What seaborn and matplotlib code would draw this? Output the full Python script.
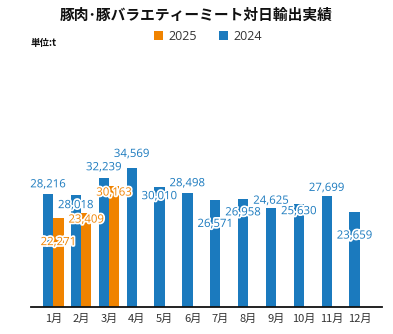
import matplotlib
matplotlib.use("Agg")
import matplotlib.pyplot as plt
import matplotlib.patheffects as pe
import seaborn as sns
import pandas as pd

# ---- data ----
months = ["1月", "2月", "3月", "4月", "5月", "6月", "7月", "8月", "9月", "10月", "11月", "12月"]
values_2024 = [28216, 28018, 32239, 34569, 30010, 28498, 26571, 26958, 24625, 25630, 27699, 23659]
values_2025 = [22271, 23409, 30163]
series_names = ["2024", "2025"]
legend_order = ["2025", "2024"]
title = "豚肉･豚バラエティーミート対日輸出実績"
unit_text = "単位:t"

# ---- styles ----
colors = {"2024": "#1b7abe", "2025": "#f08300"}
# label vertical offsets (pixels, relative to bar top; negative = above)
label_dy = {
    "2024": [-9, 11, -10, -14, 10, -9, 24, 14, -7, 7.5, -7.5, 24],
    "2025": [25, 7, 7],
}

rows = []
for m, v in zip(months, values_2024):
    rows.append({"month": m, "year": "2024", "value": v})
for m, v in zip(months, values_2025):
    rows.append({"month": m, "year": "2025", "value": v})
df = pd.DataFrame(rows)

sns.set_theme(style="white")
plt.rcParams["font.family"] = ["Noto Sans CJK JP", "DejaVu Sans"]

fig = plt.figure(figsize=(3.93, 3.34), dpi=100)
ax = fig.add_axes([31 / 393, 27.3 / 334, 351 / 393, 240 / 334])

sns.barplot(data=df, x="month", y="value", hue="year", order=months,
            hue_order=series_names, palette=colors, width=0.74, gap=0,
            saturation=1, linewidth=0, ax=ax, legend=True)

ax.set_ylim(0, 60000)
ax.set_xlim(-0.8, 11.8)
ax.set_xlabel("")
ax.set_ylabel("")
ax.set_yticks([])
for s in ["left", "right", "top"]:
    ax.spines[s].set_visible(False)
ax.spines["bottom"].set_color("#111111")
ax.spines["bottom"].set_linewidth(1.3)
ax.tick_params(axis="x", length=0, pad=5, labelsize=8, labelcolor="#333333")

# value labels
for cont, name in zip(ax.containers, series_names):
    for i, bar in enumerate(cont):
        h = bar.get_height()
        x = bar.get_x() + bar.get_width() / 2
        ax.annotate(f"{int(round(h)):,}", xy=(x, h),
                    xytext=(0, -label_dy[name][i]), textcoords="offset pixels",
                    ha="center", va="center", fontsize=8.2,
                    family=["Open Sans", "DejaVu Sans"], color=colors[name],
                    path_effects=[pe.withStroke(linewidth=2.5, foreground="white")])

# legend (2025 first)
handles, labels = ax.get_legend_handles_labels()
hmap = dict(zip(labels, handles))
ax.legend([hmap[k] for k in legend_order], legend_order, ncol=2,
          loc="center", bbox_to_anchor=(208 / 393, 1 - 36.5 / 334),
          bbox_transform=fig.transFigure, frameon=False,
          handlelength=0.72, handleheight=0.72, handletextpad=0.45,
          columnspacing=1.8, borderpad=0,
          prop={"family": ["Open Sans", "DejaVu Sans"], "size": 9},
          labelcolor="#333333")

fig.text(0.5, 1 - 15 / 334, title, ha="center", va="center",
         fontsize=10.6, fontweight="bold", color="#111111")
fig.text(31 / 393, 1 - 42.7 / 334, unit_text, ha="left", va="center",
         fontsize=6.8, fontweight="bold", color="#111111")

fig.savefig("out.png", dpi=100)
